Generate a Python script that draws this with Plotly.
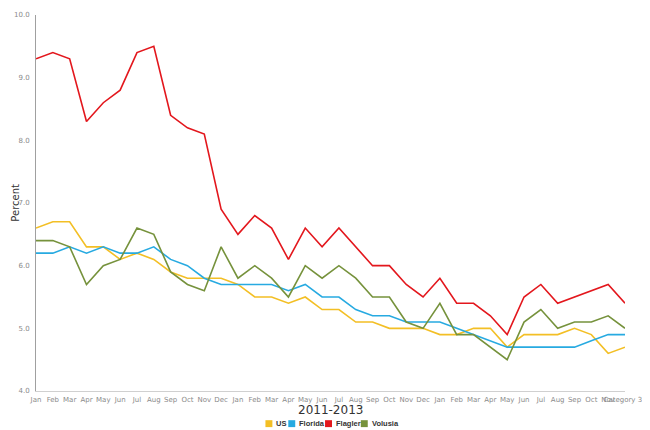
import plotly.graph_objects as go

# ── Data ───────────────────────────────────────────────────────────────────────
MONTHS = ["Jan", "Feb", "Mar", "Apr", "May", "Jun",
          "Jul", "Aug", "Sep", "Oct", "Nov", "Dec"]
tick_labels = MONTHS * 2 + MONTHS[:11] + ["Category 37"]

us = [6.6, 6.7, 6.7, 6.3, 6.3, 6.1, 6.2, 6.1, 5.9, 5.8, 5.8, 5.8,
      5.7, 5.5, 5.5, 5.4, 5.5, 5.3, 5.3, 5.1, 5.1, 5.0, 5.0, 5.0,
      4.9, 4.9, 5.0, 5.0, 4.7, 4.9, 4.9, 4.9, 5.0, 4.9, 4.6, 4.7]
florida = [6.2, 6.2, 6.3, 6.2, 6.3, 6.2, 6.2, 6.3, 6.1, 6.0, 5.8, 5.7,
           5.7, 5.7, 5.7, 5.6, 5.7, 5.5, 5.5, 5.3, 5.2, 5.2, 5.1, 5.1,
           5.1, 5.0, 4.9, 4.8, 4.7, 4.7, 4.7, 4.7, 4.7, 4.8, 4.9, 4.9]
flagler = [9.3, 9.4, 9.3, 8.3, 8.6, 8.8, 9.4, 9.5, 8.4, 8.2, 8.1, 6.9,
           6.5, 6.8, 6.6, 6.1, 6.6, 6.3, 6.6, 6.3, 6.0, 6.0, 5.7, 5.5,
           5.8, 5.4, 5.4, 5.2, 4.9, 5.5, 5.7, 5.4, 5.5, 5.6, 5.7, 5.4]
volusia = [6.4, 6.4, 6.3, 5.7, 6.0, 6.1, 6.6, 6.5, 5.9, 5.7, 5.6, 6.3,
           5.8, 6.0, 5.8, 5.5, 6.0, 5.8, 6.0, 5.8, 5.5, 5.5, 5.1, 5.0,
           5.4, 4.9, 4.9, 4.7, 4.5, 5.1, 5.3, 5.0, 5.1, 5.1, 5.2, 5.0]

SERIES = [
    ("US", us, "#F3BF25"),
    ("Florida", florida, "#27AAE1"),
    ("Flagler", flagler, "#E3171D"),
    ("Volusia", volusia, "#76923C"),
]

FONT = "DejaVu Sans, Verdana, sans-serif"
x = list(range(len(tick_labels)))

# page body adds an 8px margin, so the figure is sized to fit the window
W, H = 642, 422
L, R, T, B = 28, 21, 3, 39
PW, PH = W - L - R, H - T - B


def px(fx):   # figure pixel -> paper x
    return (fx - L) / PW


def py(fy):   # figure pixel -> paper y
    return (H - B - fy) / PH


# ── Figure ─────────────────────────────────────────────────────────────────────
fig = go.Figure()
for name, vals, color in SERIES:
    fig.add_trace(go.Scatter(
        x=x, y=vals, mode="lines", name=name,
        line=dict(color=color, width=1.6),
        hovertemplate=f"{name}<br>%{{y:.1f}}%<extra></extra>",
    ))

# compact hand-placed legend: coloured squares + bold labels
LEG_X = [259, 282, 319, 355]   # left edge of each swatch (figure px)
LEG_Y = 416
shapes, annotations = [], []
for (name, _, color), lx in zip(SERIES, LEG_X):
    shapes.append(dict(type="rect", xref="paper", yref="paper",
                       x0=px(lx), x1=px(lx + 7),
                       y0=py(LEG_Y + 3.5), y1=py(LEG_Y - 3.5),
                       fillcolor=color, line=dict(width=0)))
    annotations.append(dict(text=f"<b>{name}</b>", xref="paper", yref="paper",
                            x=px(lx + 10), y=py(LEG_Y),
                            xanchor="left", yanchor="middle",
                            borderpad=0, showarrow=False,
                            font=dict(family="Liberation Sans, Arial, sans-serif",
                                      size=7.5, color="#333333")))

annotations += [
    dict(text="Percent", textangle=-90, xref="paper", yref="paper",
         x=px(6.5), y=0.5, xanchor="center", yanchor="middle",
         borderpad=0, showarrow=False,
         font=dict(size=10, color="#333333")),
    dict(text="2011-2013", xref="paper", yref="paper",
         x=px(324), y=py(402), xanchor="center", yanchor="middle",
         borderpad=0, showarrow=False, font=dict(size=12, color="#333333")),
]

fig.update_layout(
    width=W, height=H,
    margin=dict(l=L, r=R, t=T, b=B),
    paper_bgcolor="white", plot_bgcolor="white",
    font=dict(family=FONT, color="#333333"),
    showlegend=False,
    xaxis=dict(
        range=[0, len(tick_labels) - 1],
        tickmode="array", tickvals=x, ticktext=tick_labels,
        tickangle=0, tickfont=dict(size=7, color="#8a8a8a"),
        ticklabeloverflow="allow",
        showgrid=False, zeroline=False,
        showline=True, linecolor="#d0d0d0", linewidth=1,
        ticks="", ticklabelstandoff=2,
    ),
    yaxis=dict(
        range=[4, 10], dtick=1, tickformat=".1f",
        tickfont=dict(size=7, color="#8a8a8a"),
        ticklabeloverflow="allow",
        showgrid=False, zeroline=False,
        showline=True, linecolor="#a0a0a0", linewidth=1,
        ticks="", ticklabelstandoff=4,
    ),
    shapes=shapes,
    annotations=annotations,
)

fig.write_html("out.html")
